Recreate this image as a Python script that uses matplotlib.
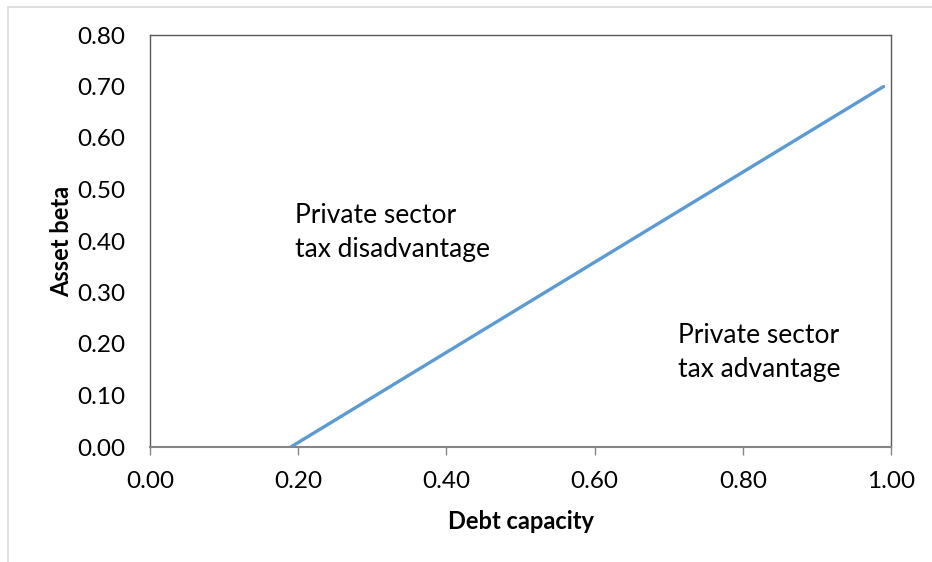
import matplotlib.pyplot as plt
from matplotlib.patches import Rectangle

plt.rcParams['font.family'] = ['Lato', 'DejaVu Sans']

debt_capacity = [0.19, 0.99]
asset_beta = [0.00, 0.70]
x_ticks = [0.0, 0.2, 0.4, 0.6, 0.8, 1.0]
y_ticks = [0.0, 0.1, 0.2, 0.3, 0.4, 0.5, 0.6, 0.7, 0.8]

W, H = 932, 562
fig = plt.figure(figsize=(W / 100, H / 100), dpi=100)
ax = fig.add_axes([150 / W, 1 - 447 / H, (891 - 150) / W, (447 - 35) / H])

# outer chart frame (partly cut off in the reference)
fig.patches.append(Rectangle((8 / W, -0.1), 1.2, 1 - 7 / H + 0.1,
                             transform=fig.transFigure, fill=False,
                             edgecolor='#D9D9D9', linewidth=1.2))

ax.plot(debt_capacity, asset_beta, color='#5B9BD5', linewidth=2.4,
        solid_capstyle='round')

ax.set_xlim(0, 1)
ax.set_ylim(0, 0.8)
ax.set_xticks(x_ticks)
ax.set_yticks(y_ticks)
ax.set_xticklabels([f'{v:.2f}' for v in x_ticks])
ax.set_yticklabels([f'{v:.2f}' for v in y_ticks])
ax.tick_params(axis='x', length=6, width=1, color='#868686', labelsize=17.5,
               pad=11, direction='out')
ax.tick_params(axis='y', length=0, labelsize=17.5, pad=18)

for side in ['left', 'top', 'right']:
    ax.spines[side].set_color('#595959')
    ax.spines[side].set_linewidth(1)
ax.spines['bottom'].set_color('#868686')
ax.spines['bottom'].set_linewidth(1.5)

ax.set_xlabel('Debt capacity', fontsize=17, fontweight='bold', labelpad=13)
ax.set_ylabel('Asset beta', fontsize=17, fontweight='bold', labelpad=3)

ax.text(0.196, 0.473, 'Private sector\ntax disadvantage', fontsize=19,
        va='top', ha='left', linespacing=1.45)
ax.text(0.713, 0.241, 'Private sector\ntax advantage', fontsize=19,
        va='top', ha='left', linespacing=1.45)

fig.savefig('out.png', dpi=100)
